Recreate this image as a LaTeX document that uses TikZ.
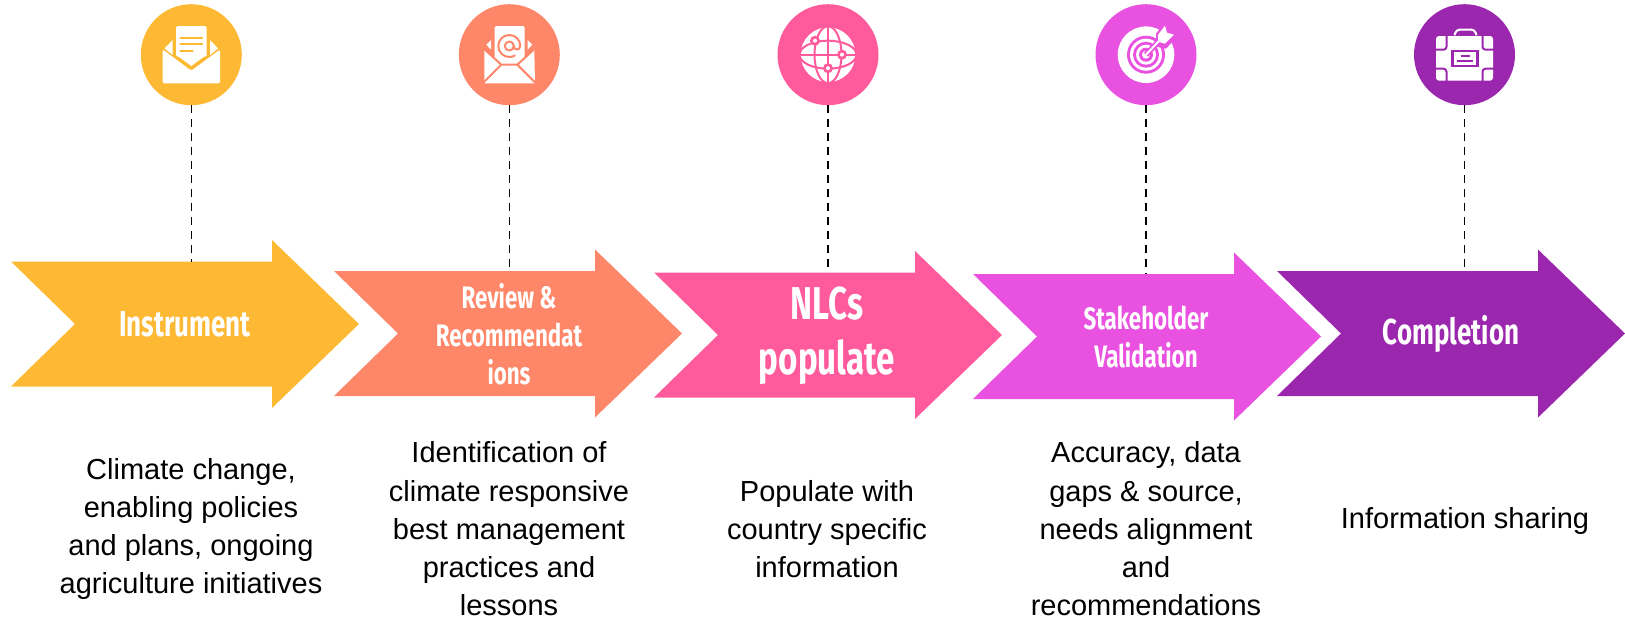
\documentclass[tikz,border=0pt]{standalone}
\usepackage{fontspec}
\setmainfont{Liberation Sans}
\newfontfamily\arrowfont[FakeStretch=0.72]{Fira Sans}
\usetikzlibrary{positioning}
\definecolor{stepyellow}{HTML}{FDB933}
\definecolor{stepsalmon}{HTML}{FF8769}
\definecolor{steppink}{HTML}{FF5A9C}
\definecolor{steporchid}{HTML}{E952E0}
\definecolor{steppurple}{HTML}{9C27AF}
% one arrow: name, left edge, middle height, colour
\newcommand{\steparrow}[4]{
  \fill[#4] (#2,#3-62.5) -- (#2+261,#3-62.5) -- (#2+261,#3-84) -- (#2+348,#3)
    -- (#2+261,#3+84) -- (#2+261,#3+62.5) -- (#2,#3+62.5) -- (#2+64,#3) -- cycle;
  \coordinate (#1) at (#2,#3-62.5);
}
\tikzset {
  badge/.style = {
    circle,
    inner sep = 0,
    minimum size = 101pt
  },
  % dashed line under a badge
  leader/.style = {
    draw = black,
    line width = 1.6pt,
    dash pattern = on 8pt off 6pt
  },
  steplabel/.style = {
    text = white,
    align = center,
    font = \arrowfont\bfseries\fontsize{36}{39}\selectfont
  },
  stepnote/.style = {
    text = black,
    align = center,
    font = \fontsize{29}{38.3}\selectfont
  },
  iconline/.style = {
    line width = 2pt,
    line cap = round,
    line join = round
  }
}
\begin{document}
\begin{tikzpicture}[x=1pt,y=-1pt]
  \useasboundingbox (0,0) rectangle (1625,621);

  \node[badge, fill=stepyellow] (mail) at (191.3,54.7) {};
  \node[badge, fill=stepsalmon] (review) at (509.3,54.7) {};
  \node[badge, fill=steppink] (globe) at (828,54.7) {};
  \node[badge, fill=steporchid] (target) at (1146,54.7) {};
  \node[badge, fill=steppurple] (case) at (1464.5,54.7) {};

  \steparrow{instrumenttop}{11}{324}{stepyellow}
  \steparrow{reviewtop}{334}{333.5}{stepsalmon}
  \steparrow{populatetop}{654}{335}{steppink}
  \steparrow{validationtop}{973}{336.5}{steporchid}
  \steparrow{completiontop}{1277}{333.5}{steppurple}

  \draw[leader] (mail.south) -- (mail.south |- instrumenttop);
  \draw[leader] (review.south) -- (review.south |- reviewtop);
  \draw[leader] (globe.south) -- (globe.south |- populatetop);
  \draw[leader] (target.south) -- (target.south |- validationtop);
  \draw[leader] (case.south) -- (case.south |- completiontop);

  \node[steplabel] (instrument) at (185,324) {Instrument};
  \node[steplabel, font=\arrowfont\bfseries\fontsize{31}{38}\selectfont] (recommend) at (509,334) {Review \&\\Recommendat\\ions};
  \node[steplabel, font=\arrowfont\bfseries\fontsize{46}{55}\selectfont] (populate) at (827,336) {NLCs\\populate};
  \node[steplabel, font=\arrowfont\bfseries\fontsize{31}{38}\selectfont] (validation) at (1146,337) {Stakeholder\\Validation};
  \node[steplabel] (completion) at (1451,334) {Completion};

  \node[stepnote] (climate) at (191,529) {Climate change,\\enabling policies\\and plans, ongoing\\agriculture initiatives};
  \node[stepnote] (practices) at (509,529) {Identification of\\climate responsive\\best management\\practices and\\lessons};
  \node[stepnote] (country) at (827,529) {Populate with\\country specific\\information};
  \node[stepnote] (accuracy) at (1146,529) {Accuracy, data\\gaps \& source,\\needs alignment\\and\\recommendations};
  \node[stepnote] (sharing) at (1465,521) {Information sharing};

  % open envelope
  \begin{scope}[shift={(mail)}]
    \fill[white, rounded corners=1.5pt] (-15.3,-28.7) rectangle (15.3,2) ;
    \fill[white] (-15.3,0) -- (0,11.3) -- (15.3,0) -- cycle;
    \fill[white] (-26.7,-6.3) -- (-18.7,-14.7) -- (-18.7,0.3) -- cycle;
    \fill[white] (26.7,-6.3) -- (18.7,-14.7) -- (18.7,0.3) -- cycle;
    \fill[white, rounded corners=2pt] (-28.7,-5.3) -- (0,16) -- (28.7,-5.3) -- (28.7,28.7) -- (-28.7,28.7) -- cycle;
    \draw[stepyellow, iconline] (-11,-17) -- (11,-17) (-11,-10.3) -- (11,-10.3) (-11,-3.3) -- (1.3,-3.3);
  \end{scope}

  % envelope with address sign
  \begin{scope}[shift={(review)}]
    \fill[white, rounded corners=1.5pt] (-14.7,-28.7) rectangle (15.3,12);
    \fill[white] (-23,-10) -- (-18.3,-14.7) -- (-18.3,-5) -- cycle;
    \fill[white] (23,-10) -- (18.3,-14.7) -- (18.3,-5) -- cycle;
    \fill[white] (-25,-5) -- (-8,10) -- (8,10) -- (25,-5) -- (25.7,28.7) -- (-25,28.7) -- cycle;
    \draw[stepsalmon, iconline, line cap=butt] (-25.5,-6) -- (-8,10) -- (8,10) -- (25.5,-6)
      (-8,10) -- (-26,28) (8,10) -- (26,28);
    \draw[stepsalmon, iconline] (0,-8.7) circle (4.5);
    \draw[stepsalmon, iconline] (4.5,-8.7) .. controls (4.5,-4) and (10.5,-4) .. (11,-8.7)
      arc[start angle=0, end angle=-300, radius=11];
  \end{scope}

  % globe with three dots
  \begin{scope}[shift={(globe)}]
    \fill[white] (0,0) circle (28.5);
    \draw[steppink, iconline] (0,0) circle (28.5);
    \draw[steppink, iconline] (0,0) ellipse (13.5 and 28.5);
    \draw[steppink, iconline] (0,0) ellipse (28.5 and 14);
    \draw[steppink, iconline] (0,-28.5) -- (0,28.5) (-28.5,0) -- (28.5,0);
    \foreach \dotx/\doty in {-13/-14, 14/0, 0/13.5} {
      \fill[steppink] (\dotx,\doty) circle (5);
      \fill[white] (\dotx,\doty) circle (2);
    }
  \end{scope}

  % target with arrow
  \begin{scope}[shift={(target)}]
    \fill[white] (0,0) circle (28.3);
    \fill[steporchid] (0,0) circle (19);
    \fill[white] (0,0) circle (16);
    \fill[steporchid] (0,0) circle (13);
    \fill[white] (0,0) circle (10);
    \fill[steporchid] (0,0) circle (7);
    \fill[white] (0,0) circle (4);
    \draw[steporchid, line width=5.5pt] (0,0) -- (17,-18);
    \fill[steporchid] (10,-21) -- (19,-33) -- (24,-24) -- (33,-20) -- (20,-6) -- (10,-8) -- cycle;
    \draw[white, line width=2pt, line cap=round] (0,0) -- (17,-18);
    \fill[white] (12,-20) -- (19,-29) -- (21,-22) -- (28,-20) -- (19,-11) -- (12,-13) -- cycle;
  \end{scope}

  % suitcase
  \begin{scope}[shift={(case)}]
    \draw[white, line width=2pt, rounded corners=3pt] (-10,-19.5) -- (-8,-25) -- (10,-25) -- (12,-19.5);
    \fill[white, rounded corners=3pt] (-28.5,-18.7) rectangle (28.5,26);
    \draw[steppurple, iconline, line cap=butt, rounded corners=3pt]
      (-18,-20) -- (-18,-5) -- (-30,-5) (18,-20) -- (18,-5) -- (30,-5)
      (-18,27) -- (-18,14) -- (-30,14) (18,27) -- (18,14) -- (30,14);
    \fill[steppurple] (-13.5,-4.7) rectangle (14.5,12);
    \fill[white] (-11,-2.7) rectangle (11.5,10);
    \draw[steppurple, line width=2.4pt] (-4,1) -- (5,1) (-8,6) -- (8,6);
  \end{scope}
\end{tikzpicture}
\end{document}
